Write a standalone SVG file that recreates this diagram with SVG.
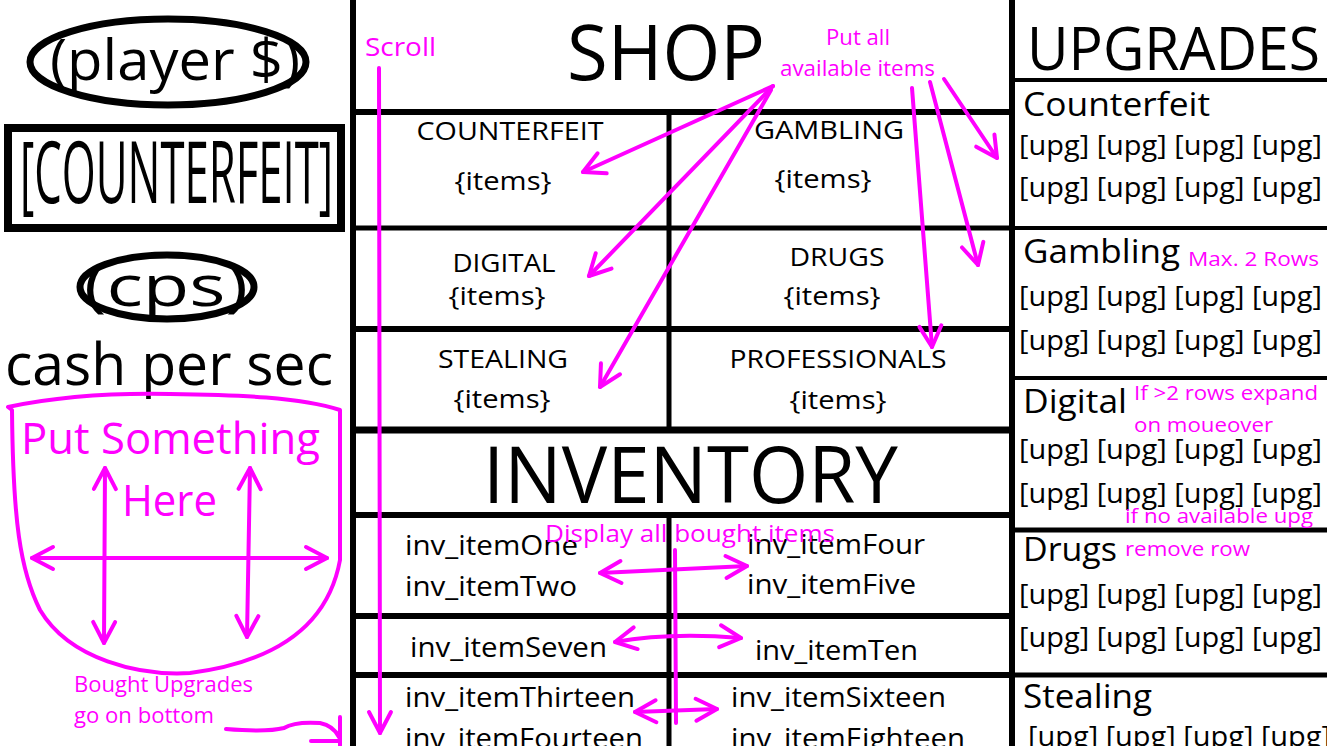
<svg xmlns="http://www.w3.org/2000/svg" width="1327" height="746" viewBox="0 0 1327 746">
<style>
text{font-family:"Open Sans","Liberation Sans",sans-serif;fill:#000}
.m{fill:#ff00ff}
.ln{stroke:#000;fill:none}
.mg{stroke:#ff00ff;fill:none;stroke-width:4;stroke-linecap:round;stroke-linejoin:round}
.cat{font-size:26px;text-anchor:middle}
.inv{font-size:28px}
.uh{font-size:33px}
.up{font-size:28px}
.note{font-size:20px}
</style>
<defs>
<marker id="ah" viewBox="0 0 30 30" refX="26" refY="15" markerWidth="30" markerHeight="30" markerUnits="userSpaceOnUse" orient="auto-start-reverse">
<path d="M5,4 L26,15 L5,26" fill="none" stroke="#ff00ff" stroke-width="4" stroke-linecap="round" stroke-linejoin="round"/>
</marker>
</defs>
<rect width="1327" height="746" fill="#fff"/>

<g id="left-panel">
  <g id="player-cash">
    <ellipse cx="168" cy="62" rx="138" ry="43" fill="none" stroke="#000" stroke-width="7"/>
    <text x="50" y="80" font-size="57" textLength="250" lengthAdjust="spacingAndGlyphs">(player $)</text>
  </g>
  <g id="counterfeit-button">
    <rect x="8" y="128" width="333" height="100" fill="none" stroke="#000" stroke-width="8"/>
    <text x="20" y="203" font-size="86" textLength="313" lengthAdjust="spacingAndGlyphs">[COUNTERFEIT]</text>
  </g>
  <g id="cps">
    <ellipse cx="167" cy="287" rx="87" ry="32" fill="none" stroke="#000" stroke-width="7"/>
    <text x="84" y="306" font-size="56" textLength="164" lengthAdjust="spacingAndGlyphs">(cps)</text>
    <text x="5" y="385" font-size="58" textLength="328" lengthAdjust="spacingAndGlyphs">cash per sec</text>
  </g>
  <g id="put-something">
    <path class="mg" stroke-width="5" d="M8,407 C60,396 120,393 170,394 C240,395 300,397 340,410 L340,560 C330,615 290,660 190,673 C140,676 70,660 40,610 C20,570 13,520 12,410 Z"/>
    <text class="m" x="21" y="454" font-size="43" textLength="299" lengthAdjust="spacingAndGlyphs">Put Something</text>
    <text class="m" x="122" y="516" font-size="43" textLength="95" lengthAdjust="spacingAndGlyphs">Here</text>
    <line class="mg" x1="105" y1="468" x2="104" y2="643" marker-start="url(#ah)" marker-end="url(#ah)"/>
    <line class="mg" x1="250" y1="468" x2="247" y2="637" marker-start="url(#ah)" marker-end="url(#ah)"/>
    <line class="mg" x1="32" y1="558" x2="327" y2="558" marker-start="url(#ah)" marker-end="url(#ah)"/>
    <text class="m" x="74" y="692" font-size="22" textLength="179" lengthAdjust="spacingAndGlyphs">Bought Upgrades</text>
    <text class="m" x="74" y="723" font-size="22" textLength="140" lengthAdjust="spacingAndGlyphs">go on bottom</text>
    <path class="mg" d="M226,729 C250,731 272,731 284,728 C292,723 305,722 320,723 C330,725 336,731 339,737"/>
    <path class="mg" d="M340,717 L340,746 M311,741 L340,741"/>
  </g>
</g>

<g id="frame">
  <line class="ln" x1="353" y1="0" x2="353" y2="746" stroke-width="6"/>
  <line class="ln" x1="1012" y1="0" x2="1012" y2="746" stroke-width="6"/>
  <line class="ln" x1="353" y1="112" x2="1012" y2="112" stroke-width="6"/>
  <line class="ln" x1="353" y1="228" x2="1012" y2="228" stroke-width="5"/>
  <line class="ln" x1="353" y1="329" x2="1012" y2="329" stroke-width="6"/>
  <line class="ln" x1="353" y1="430" x2="1012" y2="430" stroke-width="7"/>
  <line class="ln" x1="353" y1="515" x2="1012" y2="515" stroke-width="6"/>
  <line class="ln" x1="353" y1="616" x2="1012" y2="616" stroke-width="6"/>
  <line class="ln" x1="353" y1="675" x2="1012" y2="675" stroke-width="6"/>
  <line class="ln" x1="669" y1="112" x2="669" y2="430" stroke-width="5"/>
  <line class="ln" x1="669" y1="515" x2="669" y2="746" stroke-width="5"/>
  <line class="ln" x1="1012" y1="80" x2="1327" y2="80" stroke-width="4"/>
  <line class="ln" x1="1012" y1="228" x2="1327" y2="228" stroke-width="4"/>
  <line class="ln" x1="1012" y1="378" x2="1327" y2="378" stroke-width="4"/>
  <line class="ln" x1="1012" y1="530" x2="1327" y2="530" stroke-width="5"/>
  <line class="ln" x1="1012" y1="675" x2="1327" y2="675" stroke-width="5"/>
</g>

<g id="shop">
  <text x="567" y="80" font-size="76" textLength="198" lengthAdjust="spacingAndGlyphs">SHOP</text>
  <g id="shop-counterfeit"><text class="cat" x="510" y="140" textLength="187" lengthAdjust="spacingAndGlyphs">COUNTERFEIT</text><text class="cat" x="503" y="190" textLength="97" lengthAdjust="spacingAndGlyphs">{items}</text></g>
  <g id="shop-gambling"><text class="cat" x="829" y="139" textLength="150" lengthAdjust="spacingAndGlyphs">GAMBLING</text><text class="cat" x="823" y="188" textLength="97" lengthAdjust="spacingAndGlyphs">{items}</text></g>
  <g id="shop-digital"><text class="cat" x="504" y="272" textLength="103" lengthAdjust="spacingAndGlyphs">DIGITAL</text><text class="cat" x="497" y="305" textLength="97" lengthAdjust="spacingAndGlyphs">{items}</text></g>
  <g id="shop-drugs"><text class="cat" x="837" y="266" textLength="95" lengthAdjust="spacingAndGlyphs">DRUGS</text><text class="cat" x="832" y="305" textLength="97" lengthAdjust="spacingAndGlyphs">{items}</text></g>
  <g id="shop-stealing"><text class="cat" x="503" y="368" textLength="130" lengthAdjust="spacingAndGlyphs">STEALING</text><text class="cat" x="502" y="408" textLength="97" lengthAdjust="spacingAndGlyphs">{items}</text></g>
  <g id="shop-professionals"><text class="cat" x="838" y="368" textLength="217" lengthAdjust="spacingAndGlyphs">PROFESSIONALS</text><text class="cat" x="838" y="409" textLength="97" lengthAdjust="spacingAndGlyphs">{items}</text></g>
</g>

<g id="inventory">
  <text x="483" y="503" font-size="78" textLength="415" lengthAdjust="spacingAndGlyphs">INVENTORY</text>
  <text class="inv" x="405" y="555" textLength="173" lengthAdjust="spacingAndGlyphs">inv_itemOne</text>
  <text class="inv" x="405" y="596" textLength="172" lengthAdjust="spacingAndGlyphs">inv_itemTwo</text>
  <text class="inv" x="747" y="554" textLength="178" lengthAdjust="spacingAndGlyphs">inv_itemFour</text>
  <text class="inv" x="747" y="594" textLength="169" lengthAdjust="spacingAndGlyphs">inv_itemFive</text>
  <text class="inv" x="410" y="657" textLength="197" lengthAdjust="spacingAndGlyphs">inv_itemSeven</text>
  <text class="inv" x="755" y="660" textLength="163" lengthAdjust="spacingAndGlyphs">inv_itemTen</text>
  <text class="inv" x="405" y="707" textLength="230" lengthAdjust="spacingAndGlyphs">inv_itemThirteen</text>
  <text class="inv" x="405" y="748" textLength="238" lengthAdjust="spacingAndGlyphs">inv_itemFourteen</text>
  <text class="inv" x="731" y="707" textLength="215" lengthAdjust="spacingAndGlyphs">inv_itemSixteen</text>
  <text class="inv" x="731" y="748" textLength="234" lengthAdjust="spacingAndGlyphs">inv_itemEighteen</text>
</g>

<g id="upgrades">
  <text x="1027" y="70" font-size="60" textLength="293" lengthAdjust="spacingAndGlyphs">UPGRADES</text>
  <g id="upg-counterfeit">
    <text class="uh" x="1023" y="116" textLength="187" lengthAdjust="spacingAndGlyphs">Counterfeit</text>
    <text class="up" x="1019" y="155" textLength="303" lengthAdjust="spacingAndGlyphs">[upg] [upg] [upg] [upg]</text>
    <text class="up" x="1019" y="197" textLength="303" lengthAdjust="spacingAndGlyphs">[upg] [upg] [upg] [upg]</text>
  </g>
  <g id="upg-gambling">
    <text class="uh" x="1023" y="263" textLength="157" lengthAdjust="spacingAndGlyphs">Gambling</text>
    <text class="m note" x="1188" y="266" textLength="131" lengthAdjust="spacingAndGlyphs">Max. 2 Rows</text>
    <text class="up" x="1019" y="306" textLength="303" lengthAdjust="spacingAndGlyphs">[upg] [upg] [upg] [upg]</text>
    <text class="up" x="1019" y="350" textLength="303" lengthAdjust="spacingAndGlyphs">[upg] [upg] [upg] [upg]</text>
  </g>
  <g id="upg-digital">
    <text class="uh" x="1023" y="413" textLength="104" lengthAdjust="spacingAndGlyphs">Digital</text>
    <text class="m note" x="1134" y="400" textLength="184" lengthAdjust="spacingAndGlyphs">If &gt;2 rows expand</text>
    <text class="m note" x="1134" y="432" textLength="139" lengthAdjust="spacingAndGlyphs">on moueover</text>
    <text class="up" x="1019" y="459" textLength="303" lengthAdjust="spacingAndGlyphs">[upg] [upg] [upg] [upg]</text>
    <text class="up" x="1019" y="503" textLength="303" lengthAdjust="spacingAndGlyphs">[upg] [upg] [upg] [upg]</text>
    <text class="m note" x="1125" y="523" textLength="188" lengthAdjust="spacingAndGlyphs">if no available upg</text>
  </g>
  <g id="upg-drugs">
    <text class="uh" x="1023" y="561" textLength="94" lengthAdjust="spacingAndGlyphs">Drugs</text>
    <text class="m note" x="1125" y="556" textLength="125" lengthAdjust="spacingAndGlyphs">remove row</text>
    <text class="up" x="1019" y="604" textLength="303" lengthAdjust="spacingAndGlyphs">[upg] [upg] [upg] [upg]</text>
    <text class="up" x="1019" y="647" textLength="303" lengthAdjust="spacingAndGlyphs">[upg] [upg] [upg] [upg]</text>
  </g>
  <g id="upg-stealing">
    <text class="uh" x="1023" y="708" textLength="129" lengthAdjust="spacingAndGlyphs">Stealing</text>
    <text class="up" x="1028" y="746" textLength="303" lengthAdjust="spacingAndGlyphs">[upg] [upg] [upg] [upg]</text>
  </g>
</g>

<g id="annotations">
  <text class="m" x="365" y="56" font-size="26" textLength="71" lengthAdjust="spacingAndGlyphs">Scroll</text>
  <text class="m" x="826" y="45" font-size="22" textLength="64" lengthAdjust="spacingAndGlyphs">Put all</text>
  <text class="m" x="780" y="76" font-size="22" textLength="155" lengthAdjust="spacingAndGlyphs">available items</text>
  <text class="m" x="545" y="542" font-size="24" textLength="290" lengthAdjust="spacingAndGlyphs">Display all  bought items</text>
</g>

<g id="connectors">
  <line class="mg" x1="379" y1="68" x2="380" y2="733" marker-end="url(#ah)"/>
  <line class="mg" x1="773" y1="86" x2="583" y2="172" marker-end="url(#ah)"/>
  <line class="mg" x1="773" y1="86" x2="589" y2="276" marker-end="url(#ah)"/>
  <line class="mg" x1="771" y1="90" x2="600" y2="387" marker-end="url(#ah)"/>
  <line class="mg" x1="912" y1="88" x2="932" y2="347" marker-end="url(#ah)"/>
  <line class="mg" x1="930" y1="82" x2="978" y2="265" marker-end="url(#ah)"/>
  <line class="mg" x1="944" y1="79" x2="997" y2="158" marker-end="url(#ah)"/>
  <line class="mg" x1="675" y1="550" x2="676" y2="723"/>
  <line class="mg" x1="600" y1="573" x2="747" y2="566" marker-start="url(#ah)" marker-end="url(#ah)"/>
  <path class="mg" d="M615,642 Q670,632 741,638" marker-start="url(#ah)" marker-end="url(#ah)"/>
  <line class="mg" x1="635" y1="712" x2="717" y2="709" marker-start="url(#ah)" marker-end="url(#ah)"/>
</g>
</svg>
